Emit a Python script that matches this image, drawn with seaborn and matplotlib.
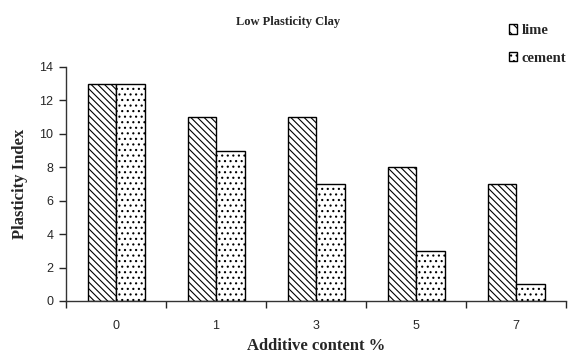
import matplotlib
matplotlib.use("Agg")
import matplotlib.pyplot as plt
import seaborn as sns
import pandas as pd
from matplotlib.patches import Patch

categories = ["0", "1", "3", "5", "7"]
lime = [13, 11, 11, 8, 7]
cement = [13, 9, 7, 3, 1]
series = ["lime", "cement"]

df = pd.DataFrame({
    "content": categories * 2,
    "value": lime + cement,
    "series": ["lime"] * len(categories) + ["cement"] * len(categories),
})

sns.set_style("white")
plt.rcParams["hatch.linewidth"] = 0.8

fig = plt.figure(figsize=(5.73, 3.6), dpi=100)
ax = fig.add_axes([0.1152, 0.1639, 0.8726, 0.65])

sns.barplot(data=df, x="content", y="value", hue="series", order=categories,
            hue_order=series, palette=["white", "white"], width=0.57,
            edgecolor="black", linewidth=1, ax=ax, legend=False, saturation=1)

hatches = ["\\\\\\\\\\", "..."]
for cont, h in zip(ax.containers, hatches):
    for p in cont:
        p.set_hatch(h)
        p.set_edgecolor("black")

ax.set_ylim(0, 14)
ax.set_yticks(range(0, 15, 2))
ax.set_xlim(-0.5, len(categories) - 0.5)
ax.set_xticks(range(len(categories)))
ax.set_xticks([i - 0.5 for i in range(len(categories) + 1)], minor=True)
ax.tick_params(axis="x", which="major", length=0, pad=14, labelsize=9)
ax.tick_params(axis="x", which="minor", length=5, width=1, direction="out", bottom=True)
ax.tick_params(axis="y", length=5, width=1, direction="out", left=True, labelsize=9, pad=4)
for lbl in ax.get_xticklabels() + ax.get_yticklabels():
    lbl.set_family("Liberation Sans")

for s in ["top", "right"]:
    ax.spines[s].set_visible(False)
for s in ["left", "bottom"]:
    ax.spines[s].set_color("#333333")
    ax.spines[s].set_linewidth(1)

ax.set_xlabel("Additive content %", family="Liberation Serif", fontweight="bold",
              fontsize=12, labelpad=4)
ax.set_ylabel("Plasticity Index", family="Liberation Serif", fontweight="bold",
              fontsize=12, labelpad=8)

fig.text(0.503, 0.938, "Low Plasticity Clay", family="Liberation Serif",
         fontweight="bold", fontsize=9, ha="center", va="center")

handles = [Patch(facecolor="white", edgecolor="black", hatch=h) for h in ["\\\\\\", "..."]]
leg = fig.legend(handles, series, loc="upper left", bbox_to_anchor=(0.88, 0.945),
                 frameon=False, handlelength=0.6, handleheight=0.6, handletextpad=0.3,
                 labelspacing=1.0, borderaxespad=0, borderpad=0.3,
                 prop={"family": "Liberation Serif", "weight": "bold", "size": 10.5})

fig.savefig("out.png", dpi=100)
